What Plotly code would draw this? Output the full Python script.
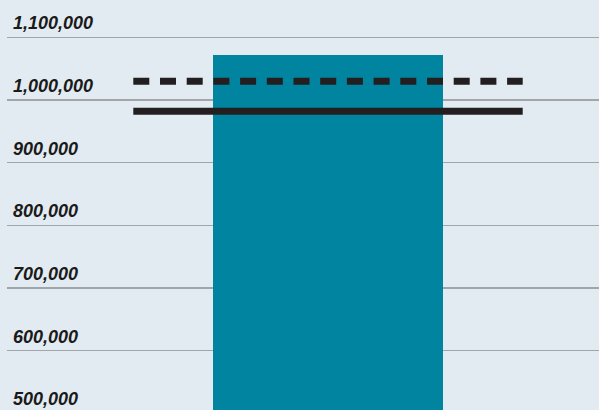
import plotly.graph_objects as go

# Data
categories = ["Total"]
bar_values = [1072000]
dashed_value = [1030000]
solid_value = [982000]
tick_values = [500000, 600000, 700000, 800000, 900000, 1000000, 1100000]
tick_labels = ["500,000", "600,000", "700,000", "800,000", "900,000", "1,000,000", "1,100,000"]

BG = "#e2ebf1"
BAR = "#00849f"
LINE = "#231f20"
GRID = "#a3a6a8"

fig = go.Figure()

x_pos = list(range(len(categories)))
fig.add_trace(go.Bar(x=x_pos, y=bar_values, width=0.6, marker=dict(color=BAR, line=dict(width=0)),
                     hoverinfo="skip", showlegend=False))

half = 0.508
fig.add_trace(go.Scatter(x=[x_pos[0] - half, x_pos[0] + half], y=dashed_value * 2, mode="lines",
                         line=dict(color=LINE, width=7, dash="16px,10.7px"), showlegend=False, hoverinfo="skip"))
fig.add_trace(go.Scatter(x=[x_pos[0] - half, x_pos[0] + half], y=solid_value * 2, mode="lines",
                         line=dict(color=LINE, width=7), showlegend=False, hoverinfo="skip"))

for v, t in zip(tick_values, tick_labels):
    fig.add_annotation(x=0, xref="paper", y=v, yref="y", text=t, showarrow=False,
                       xanchor="left", yanchor="bottom", xshift=4, yshift=2,
                       font=dict(family="Liberation Sans, Arial, sans-serif", size=18,
                                 weight="bold", style="italic", color="#1a1a1a"))

fig.update_layout(
    width=599, height=420,
    margin=dict(l=7, r=0, t=0, b=0),
    paper_bgcolor=BG, plot_bgcolor=BG,
    bargap=0,
    xaxis=dict(range=[-0.8375, 0.707], showgrid=False, zeroline=False, showticklabels=False,
               ticks="", showline=False, fixedrange=True),
    yaxis=dict(range=[489440, 1159500], tickvals=tick_values, showticklabels=False,
               showgrid=True, gridcolor=GRID, gridwidth=1.5, zeroline=False, ticks="",
               showline=False, fixedrange=True),
)

fig.write_html("out.html",
               config={"displayModeBar": False, "staticPlot": True},
               post_script="document.body.style.margin='0';document.body.style.overflow='hidden';"
                           "document.documentElement.style.overflow='hidden';"
                           "document.body.style.background='" + BG + "';")
